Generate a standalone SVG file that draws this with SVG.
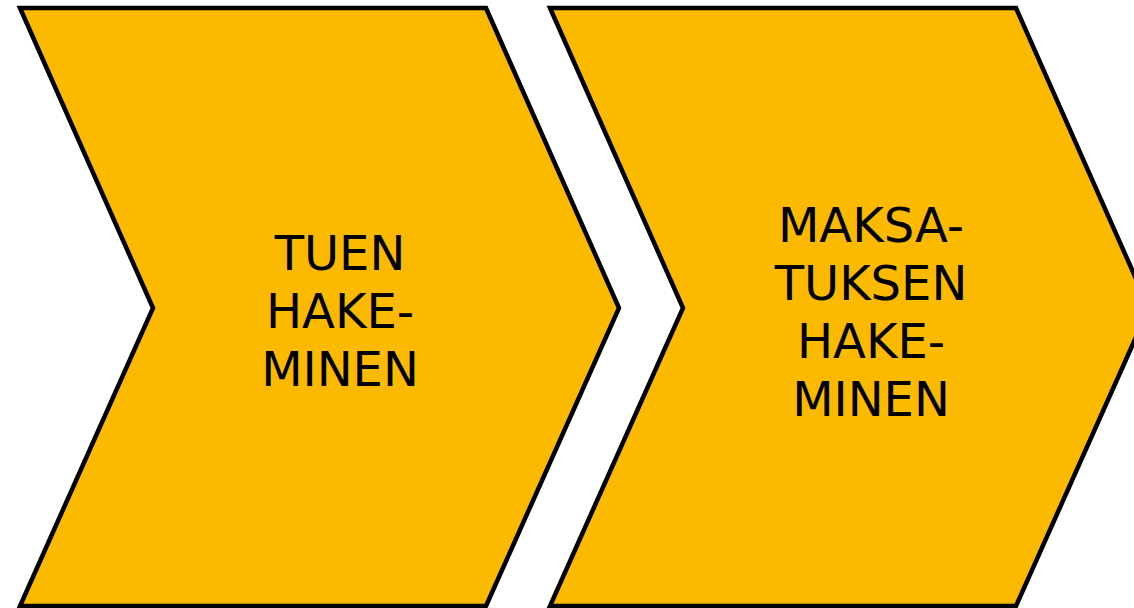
<svg xmlns="http://www.w3.org/2000/svg" width="1134" height="608" viewBox="0 0 1134 608">
<style>
.chev{fill:#FBBA00;stroke:#000;stroke-width:4.5;stroke-linejoin:miter}
.lbl{font-family:"DejaVu Sans",Verdana,sans-serif;font-size:48px;fill:#000;text-anchor:middle}
</style>
<rect width="1134" height="608" fill="#fff"/>
<g id="step1">
<polygon class="chev" points="20,8 486,8 619,308 486,606 20,606 153,308"/>
<text class="lbl" x="340" y="270">TUEN</text>
<text class="lbl" x="340" y="328">HAKE-</text>
<text class="lbl" x="340" y="386">MINEN</text>
</g>
<g id="step2">
<polygon class="chev" points="550,8 1016,8 1149,308 1016,606 550,606 683,308"/>
<text class="lbl" x="871" y="242">MAKSA-</text>
<text class="lbl" x="871" y="300">TUKSEN</text>
<text class="lbl" x="871" y="358">HAKE-</text>
<text class="lbl" x="871" y="416">MINEN</text>
</g>
<g id="connectors"/>
</svg>
